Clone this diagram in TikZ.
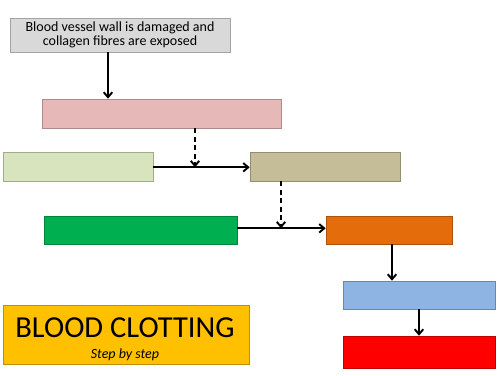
\documentclass[tikz,border=0pt]{standalone}
\usepackage{fontspec}
\setmainfont{Carlito}
\usetikzlibrary{arrows.meta,positioning}
\definecolor{boxgray}{RGB}{217,217,217}
\definecolor{boxpink}{RGB}{230,185,184}
\definecolor{boxlime}{RGB}{215,228,189}
\definecolor{boxtan}{RGB}{196,189,151}
\definecolor{boxgreen}{RGB}{0,176,80}
\definecolor{boxorange}{RGB}{228,108,10}
\definecolor{boxblue}{RGB}{142,180,227}
\definecolor{boxred}{RGB}{255,0,0}
\definecolor{boxgold}{RGB}{255,192,0}

\begin{document}
\begin{tikzpicture}[x=1pt, y=-1pt,
    stage/.style={rectangle, draw=#1!75!black, fill=#1, line width=0.6pt, inner sep=0pt},
    arr/.style={-{Straight Barb[length=5pt,width=8.5pt]}, line width=1.9pt},
    dsh/.style={arr, dash pattern=on 5pt off 3.5pt}
]
\useasboundingbox (0,0) rectangle (500,375);

\node[stage=boxgray, minimum width=220pt, minimum height=34pt, align=center,
      font=\fontsize{14}{13.5}\selectfont] (Damage) at (120,35)
      {Blood vessel wall is damaged and\\collagen fibres are exposed};
\node[stage=boxpink, minimum width=239pt, minimum height=29pt] (Pink) at (161.5,113.5) {};
\node[stage=boxlime, minimum width=150pt, minimum height=29pt] (Lime) at (78,166.5) {};
\node[stage=boxtan, minimum width=150pt, minimum height=29pt] (Tan) at (325,166.5) {};
\node[stage=boxgreen, minimum width=193pt, minimum height=28pt] (Green) at (140.5,230) {};
\node[stage=boxorange, minimum width=126pt, minimum height=28pt] (Orange) at (389,230) {};
\node[stage=boxblue, minimum width=152pt, minimum height=28pt] (Blue) at (419,295) {};
\node[stage=boxred, minimum width=152pt, minimum height=32pt] (Red) at (419,352) {};

\node[stage=boxgold, minimum width=246pt, minimum height=59pt] (Title) at (126,335) {};
\node[font=\fontsize{30.5}{32}\selectfont, anchor=base] (TitleMain) at (125,337) {BLOOD CLOTTING};
\node[font=\fontsize{14}{15}\selectfont\itshape, anchor=base] (TitleSub) at (125,358) {Step by step};

% junction points on the horizontal arrows
\coordinate (JoinA) at (195,167.3);
\coordinate (JoinB) at (281,228.3);

\draw[arr] ([xshift=-12pt]Damage.south) -- ([xshift=-12pt]Damage.south |- Pink.north);
\draw[arr] (Lime.east |- JoinA) -- (Tan.west |- JoinA);
\draw[dsh] (Pink.south -| JoinA) -- (JoinA);
\draw[arr] (Green.east |- JoinB) -- (Orange.west |- JoinB);
\draw[dsh] (Tan.south -| JoinB) -- (JoinB);
\draw[arr] ([xshift=3pt]Orange.south) -- ([xshift=3pt]Orange.south |- Blue.north);
\draw[arr] (Blue.south) -- (Red.north);
\end{tikzpicture}
\end{document}
